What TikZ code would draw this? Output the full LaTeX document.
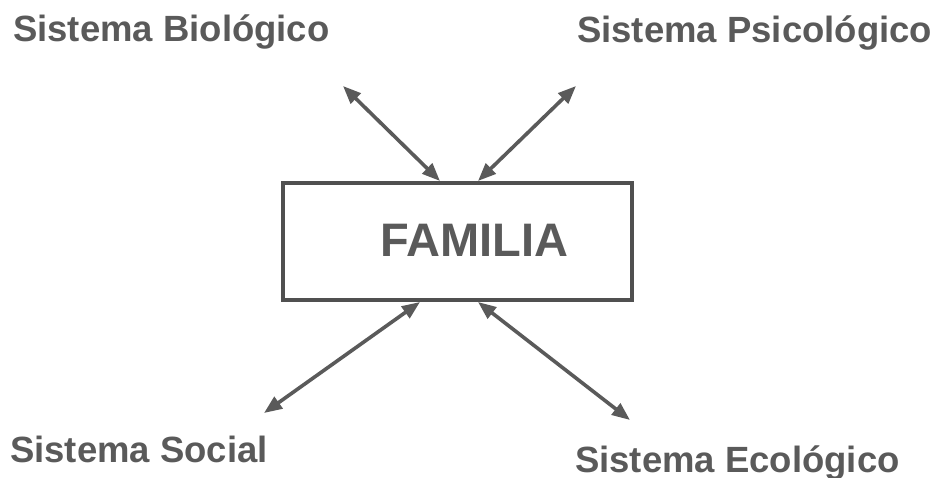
\documentclass[tikz,border=0pt]{standalone}
\usepackage{fontspec}
\setmainfont{Liberation Sans}
\usetikzlibrary{arrows.meta}
\definecolor{ink}{HTML}{5A5A5A}
\definecolor{boxink}{HTML}{505050}
\tikzset{
  lbl/.style={font=\bfseries\fontsize{36.5}{40}\selectfont, text=ink, inner sep=0pt, anchor=base west},
  famtxt/.style={font=\bfseries\fontsize{47}{50}\selectfont, text=ink, inner sep=0pt, anchor=base},
  fambox/.style={draw=boxink, line width=4pt, minimum width=349pt, minimum height=117pt, inner sep=0pt},
  link/.style={draw=ink, line width=3.6pt, {Triangle[length=18pt,width=14pt]}-{Triangle[length=18pt,width=14pt]}}
}
\begin{document}
\begin{tikzpicture}[x=1pt,y=-1pt]
\useasboundingbox (0,0) rectangle (943,478);
\node[fambox] (fam) at (457.5,241.5) {};
\node[famtxt] (famlabel) at (474,257) {FAMILIA};
\node[lbl] (bio) at (13,42) {Sistema Biológico};
\node[lbl] (psi) at (577,43) {Sistema Psicológico};
\node[lbl] (soc) at (10,462) {Sistema Social};
\node[lbl] (eco) at (575,472) {Sistema Ecológico};
\coordinate (nwtip) at (343,86);
\coordinate (netip) at (576,86);
\coordinate (swtip) at (264,413);
\coordinate (setip) at (630,420);
\coordinate (nwbox) at (440,181);
\coordinate (nebox) at (478,181);
\coordinate (swbox) at (420,302);
\coordinate (sebox) at (478,302);
\draw[link] (nwtip) -- (nwbox);
\draw[link] (netip) -- (nebox);
\draw[link] (swtip) -- (swbox);
\draw[link] (setip) -- (sebox);
\end{tikzpicture}
\end{document}
